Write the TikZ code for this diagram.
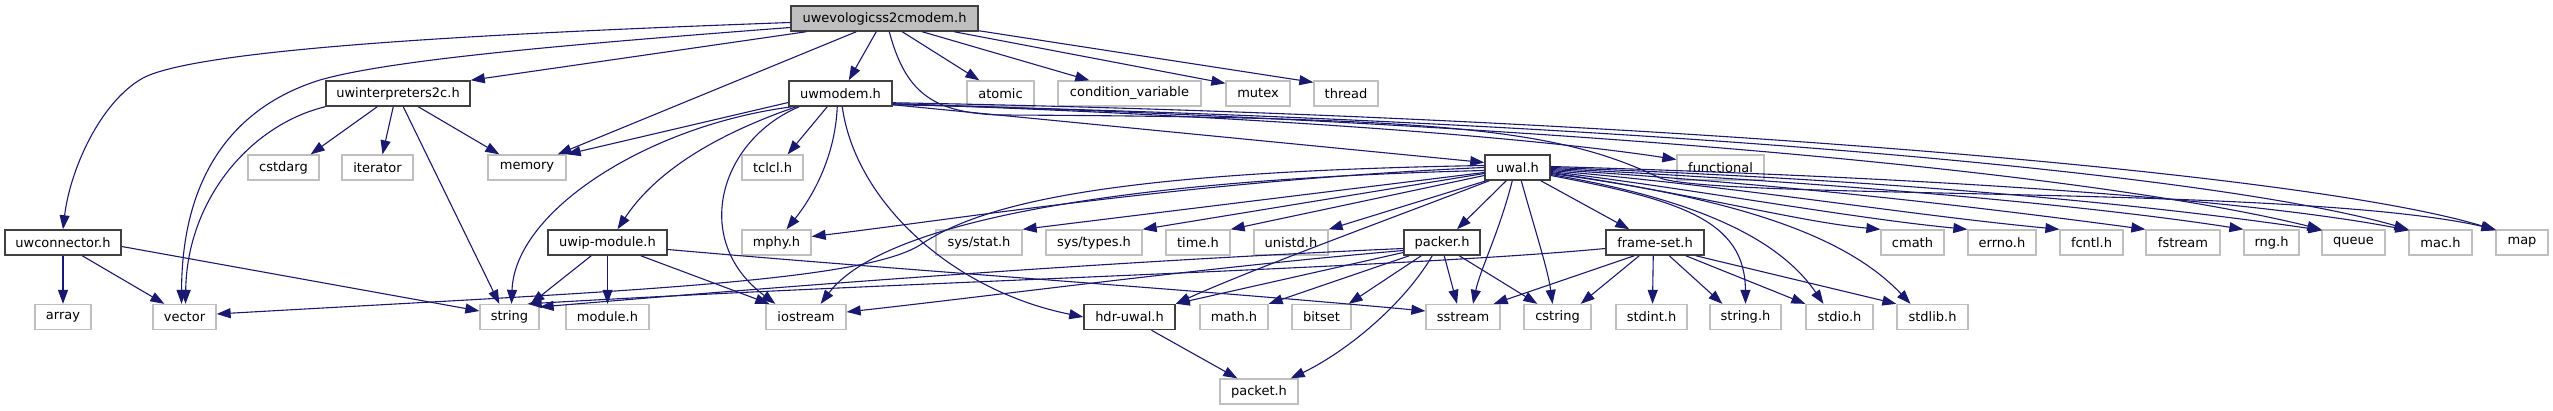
\documentclass[tikz,border=0pt]{standalone}
\usepackage{fontspec}
\setmainfont{DejaVu Sans}
\usetikzlibrary{arrows.meta,calc}
\definecolor{edgec}{HTML}{191970}
\definecolor{lgray}{HTML}{BFBFBF}
\definecolor{dgray}{HTML}{404040}
\tikzset{
  base/.style={rectangle, minimum height=25pt, inner sep=0pt, font=\fontsize{13}{15}\selectfont, text=black},
  ext/.style={base, draw=lgray, line width=1.3pt},
  doc/.style={base, draw=dgray, line width=1.5pt},
  topnode/.style={base, draw=dgray, line width=1.5pt, fill=lgray},
  e/.style={draw=edgec, line width=1.1pt, -{Triangle[length=14pt,width=10pt]}},
}
\begin{document}
\begin{tikzpicture}[x=1pt,y=-1pt]
\useasboundingbox (0,0) rectangle (2553,411);
% row 0
\node[topnode, minimum width=187pt] (T) at (884.5,18.5) {uwevologicss2cmodem.h};
% row 1
\node[doc, minimum width=144pt] (uwint) at (398,93.5) {uwinterpreters2c.h};
\node[doc, minimum width=103pt] (uwmodem) at (840.5,93.5) {uwmodem.h};
\node[ext, minimum width=67pt] (atomic) at (1000.5,93.5) {atomic};
\node[ext, minimum width=143pt] (condvar) at (1129.5,93.5) {condition\_variable};
\node[ext, minimum width=64pt] (mutex) at (1258,93.5) {mutex};
\node[ext, minimum width=64pt] (thread) at (1346,93.5) {thread};
% row 2
\node[ext, minimum width=71pt] (cstdarg) at (283.5,167.5) {cstdarg};
\node[ext, minimum width=71pt] (iterator) at (377.5,167.5) {iterator};
\node[ext, minimum width=78pt] (memory) at (527,167.5) {memory};
\node[ext, minimum width=61pt] (tclcl) at (772.5,167.5) {tclcl.h};
\node[doc, minimum width=65pt] (uwal) at (1517.5,167.5) {uwal.h};
\node[ext, minimum width=87pt] (functional) at (1720.5,167.5) {functional};
% row 3
\node[doc, minimum width=116pt] (uwconnector) at (63,242.5) {uwconnector.h};
\node[doc, minimum width=119pt] (uwip) at (607.5,242.5) {uwip-module.h};
\node[ext, minimum width=69pt] (mphy) at (776.5,242.5) {mphy.h};
\node[ext, minimum width=86pt] (sysstat) at (979,242.5) {sys/stat.h};
\node[ext, minimum width=96pt] (systypes) at (1094,242.5) {sys/types.h};
\node[ext, minimum width=64pt] (time) at (1198,242.5) {time.h};
\node[ext, minimum width=74pt] (unistd) at (1291,242.5) {unistd.h};
\node[doc, minimum width=76pt] (packer) at (1442,242.5) {packer.h};
\node[doc, minimum width=98pt] (frameset) at (1655,242.5) {frame-set.h};
\node[ext, minimum width=63pt] (cmath) at (1912.5,242.5) {cmath};
\node[ext, minimum width=68pt] (errno) at (2002,242.5) {errno.h};
\node[ext, minimum width=63pt] (fcntl) at (2091.5,242.5) {fcntl.h};
\node[ext, minimum width=74pt] (fstream) at (2183,242.5) {fstream};
\node[ext, minimum width=55pt] (rng) at (2271.5,242.5) {rng.h};
\node[ext, minimum width=63pt] (queue) at (2353.5,242.5) {queue};
\node[ext, minimum width=63pt] (mac) at (2440.5,242.5) {mac.h};
\node[ext, minimum width=52pt] (map) at (2522,242.5) {map};
% row 4
\node[ext, minimum width=56pt] (array) at (63,317) {array};
\node[ext, minimum width=63pt] (vector) at (184.5,317) {vector};
\node[ext, minimum width=59pt] (string) at (509.5,317) {string};
\node[ext, minimum width=83pt] (module) at (607.5,317) {module.h};
\node[ext, minimum width=80pt] (iostream) at (806,317) {iostream};
\node[doc, minimum width=91pt] (hdruwal) at (1129.5,317) {hdr-uwal.h};
\node[ext, minimum width=68pt] (math) at (1234,317) {math.h};
\node[ext, minimum width=59pt] (bitset) at (1321.5,317) {bitset};
\node[ext, minimum width=74pt] (sstream) at (1463,317) {sstream};
\node[ext, minimum width=67pt] (cstring) at (1557.5,317) {cstring};
\node[ext, minimum width=71pt] (stdint) at (1651.5,317) {stdint.h};
\node[ext, minimum width=71pt] (stringh) at (1745.5,317) {string.h};
\node[ext, minimum width=67pt] (stdio) at (1839.5,317) {stdio.h};
\node[ext, minimum width=71pt] (stdlib) at (1932.5,317) {stdlib.h};
% row 5
\node[ext, minimum width=78pt] (packet) at (1259,391.5) {packet.h};

% ---- edges from uwevologicss2cmodem.h
\draw[e] ($(T.west)+(0,4)$) .. controls (500,33) and (200,48) .. (143,78) .. controls (100,102) and (70,170) .. (uwconnector.north);
\draw[e] ($(T.west)+(0,9)$) .. controls (560,45) and (390,60) .. (320,80) .. controls (230,108) and (182,180) .. ($(vector.north)+(-3,0)$);
\draw[e] ($(T.south west)+(16,0)$) -- (uwint.north east);
\draw[e] ($(T.south west)+(66,0)$) -- ($(memory.north east)+(-9,0)$);
\draw[e] ($(T.south west)+(86,0)$) -- ($(uwmodem.north east)+(-44,0)$);
\draw[e] ($(T.south west)+(112,0)$) -- ($(atomic.north west)+(13,0)$);
\draw[e] ($(T.south west)+(132,0)$) -- ($(condvar.north west)+(32,0)$);
\draw[e] ($(T.south west)+(164,0)$) -- ($(mutex.north west)+(0,3)$);
\draw[e] ($(T.south east)+(0,-1)$) -- ($(thread.north west)+(0,2)$);
\draw[e] ($(T.south west)+(99,0)$) .. controls (905,90) and (930,113) .. (1000,115) .. controls (1450,117) and (1560,130) .. (1660,178) .. controls (1720,200) and (2300,185) .. (map.north west);

% ---- edges from uwmodem.h
\draw[e] ($(uwmodem.west)+(0,9)$) -- (memory.north east);
\draw[e] ($(uwmodem.south west)+(4,0)$) .. controls (650,125) and (515,210) .. ($(string.north)+(2,0)$);
\draw[e] ($(uwmodem.south west)+(8,0)$) .. controls (700,140) and (650,180) .. ($(uwip.north)+(10,0)$);
\draw[e] ($(uwmodem.south west)+(11,0)$) .. controls (720,140) and (690,240) .. ($(iostream.north west)+(10,0)$);
\draw[e] ($(uwmodem.south west)+(39,0)$) -- ($(tclcl.north east)+(-16,0)$);
\draw[e] ($(uwmodem.south west)+(49,0)$) .. controls (835,160) and (810,200) .. ($(mphy.north)+(10,0)$);
\draw[e] ($(uwmodem.south west)+(54,0)$) .. controls (855,200) and (950,290) .. (hdruwal.west);
\draw[e] ($(uwmodem.south east)+(0,-2)$) -- ($(uwal.west)+(0,-5)$);
\draw[e] ($(uwmodem.south east)+(0,-3)$) .. controls (1300,118) and (1550,140) .. ($(functional.west)+(0,-8)$);
\draw[e] ($(uwmodem.south east)+(0,-4)$) .. controls (1600,115) and (2300,170) .. ($(map.north west)+(1,1)$);
\draw[e] ($(uwmodem.south east)+(0,-3)$) .. controls (1600,125) and (2100,175) .. (queue.north west);
\draw[e] ($(uwmodem.south east)+(0,-2)$) .. controls (1600,120) and (2200,170) .. (mac.north west);

% ---- edges from uwal.h
\draw[e] (uwal.west) .. controls (1200,180) and (950,220) .. ($(mphy.east)+(0,-6)$);
\draw[e] ($(uwal.west)+(0,3)$) .. controls (1100,180) and (880,225) .. ($(iostream.north east)+(-26,0)$);
\draw[e] ($(uwal.west)+(0,5)$) -- (sysstat.north east);
\draw[e] ($(uwal.west)+(0,6)$) -- (systypes.north east);
\draw[e] ($(uwal.west)+(0,8)$) -- (time.north east);
\draw[e] ($(uwal.south west)+(2,0)$) -- (unistd.north east);
\draw[e] ($(uwal.south west)+(5,0)$) .. controls (1400,215) and (1250,270) .. (hdruwal.north east);
\draw[e] ($(uwal.south west)+(22,0)$) -- ($(packer.north)+(15,0)$);
\draw[e] ($(uwal.south west)+(28,0)$) .. controls (1500,230) and (1480,270) .. ($(sstream.north)+(10,0)$);
\draw[e] ($(uwal.south west)+(37,0)$) .. controls (1535,230) and (1548,270) .. ($(cstring.north)+(-5,0)$);
\draw[e] ($(uwal.south east)+(-10,0)$) -- ($(frameset.north west)+(24,0)$);
\draw[e] ($(uwal.east)+(0,8)$) .. controls (1680,200) and (1745,220) .. (stringh.north);
\draw[e] ($(uwal.east)+(0,7)$) .. controls (1700,200) and (1780,240) .. ($(stdio.north)+(-16,0)$);
\draw[e] ($(uwal.east)+(0,6)$) .. controls (1750,200) and (1850,240) .. ($(stdlib.north)+(-22,0)$);
\draw[e] ($(uwal.east)+(0,5)$) .. controls (1700,195) and (1800,222) .. (cmath.north west);
\draw[e] ($(uwal.east)+(0,4)$) .. controls (1700,190) and (1850,218) .. (errno.north west);
\draw[e] ($(uwal.east)+(0,3)$) .. controls (1750,188) and (1900,214) .. (fcntl.north west);
\draw[e] ($(uwal.east)+(0,2)$) .. controls (1800,185) and (2000,210) .. (fstream.north west);
\draw[e] ($(uwal.east)+(0,1)$) .. controls (1850,183) and (2100,207) .. (rng.north west);
\draw[e] (uwal.east) .. controls (1900,180) and (2150,205) .. ($(queue.north west)+(1,1)$);
\draw[e] ($(uwal.east)+(0,-1)$) .. controls (1950,178) and (2250,200) .. ($(mac.north west)+(1,1)$);
\draw[e] ($(uwal.west)+(0,-2)$) .. controls (1100,172) and (980,205) .. (920,245) .. controls (860,283) and (600,292) .. ($(vector.east)+(0,-3)$);

% ---- edges from uwinterpreters2c.h
\draw[e] ($(uwint.south west)+(52,0)$) -- ($(cstdarg.north east)+(-9,0)$);
\draw[e] ($(uwint.south west)+(68,0)$) -- ($(iterator.north)+(5,0)$);
\draw[e] (uwint.south west) .. controls (250,125) and (187,200) .. ($(vector.north)+(1,0)$);
\draw[e] ($(uwint.south west)+(78,0)$) -- ($(string.north west)+(20,0)$);
\draw[e] ($(uwint.south west)+(93,0)$) -- ($(memory.north west)+(12,0)$);

% ---- edges from uwconnector.h
\draw[e] (uwconnector.south) -- (array.north);
\draw[e] ($(uwconnector.south west)+(78,0)$) -- ($(vector.north west)+(12,0)$);
\draw[e] ($(uwconnector.east)+(0,4)$) -- ($(string.west)+(0,-6)$);

% ---- edges from uwip-module.h
\draw[e] ($(uwip.south west)+(44,0)$) -- ($(string.north east)+(-9,0)$);
\draw[e] (uwip.south) -- (module.north);
\draw[e] ($(uwip.south east)+(-27,0)$) -- ($(iostream.north west)+(4,0)$);
\draw[e] ($(uwip.east)+(0,7)$) .. controls (900,270) and (1200,290) .. ($(sstream.west)+(0,-6)$);

% ---- edges from packer.h
\draw[e] ($(packer.south west)+(18,0)$) -- ($(bitset.north east)+(-3,0)$);
\draw[e] ($(packer.south west)+(41,0)$) -- ($(sstream.north)+(-6,0)$);
\draw[e] ($(packer.south west)+(56,0)$) -- ($(cstring.north west)+(14,0)$);
\draw[e] ($(packer.south west)+(29,0)$) .. controls (1400,310) and (1340,355) .. ($(packet.north east)+(-8,0)$);
\draw[e] ($(packer.south west)+(6,0)$) -- (math.north east);
\draw[e] ($(packer.west)+(0,10)$) -- (hdruwal.north east);
\draw[e] ($(packer.west)+(0,8)$) .. controls (1200,268) and (1000,295) .. ($(iostream.east)+(0,-5)$);
\draw[e] ($(packer.west)+(0,6)$) .. controls (1100,262) and (800,285) .. ($(string.east)+(0,-10)$);

% ---- edges from frame-set.h
\draw[e] ($(frameset.west)+(0,6)$) .. controls (1400,268) and (900,282) .. ($(string.north east)+(-12,0)$);
\draw[e] ($(frameset.south west)+(29,0)$) -- ($(sstream.north east)+(-7,0)$);
\draw[e] ($(frameset.south west)+(34,0)$) -- ($(cstring.north east)+(-11,0)$);
\draw[e] ($(frameset.south west)+(48,0)$) -- ($(stdint.north)+(1,0)$);
\draw[e] ($(frameset.south west)+(64,0)$) -- ($(stringh.north west)+(13,0)$);
\draw[e] ($(frameset.south east)+(-19,0)$) -- (stdio.north west);
\draw[e] ($(frameset.south east)+(-9,0)$) -- (stdlib.north west);

% ---- edges from hdr-uwal.h
\draw[e] ($(hdruwal.south)+(22,0)$) -- ($(packet.north west)+(18,0)$);
\end{tikzpicture}
\end{document}
